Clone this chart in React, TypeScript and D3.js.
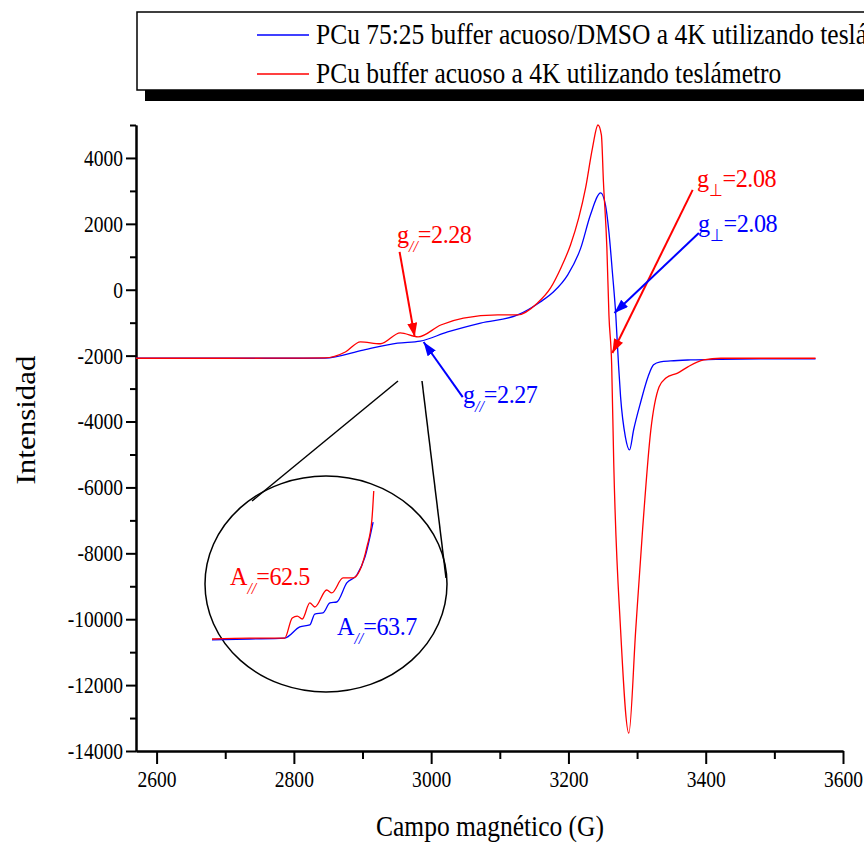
import * as d3 from 'd3'
import { useRef, useEffect } from 'react'

// EPR spectra, field in G, intensity in a.u.
const redField = [2570, 2700, 2800, 2845, 2875, 2897, 2926, 2955, 2981, 3014, 3047, 3097, 3126, 3155, 3174, 3189, 3203, 3215, 3225, 3235, 3243, 3248, 3251, 3256, 3259, 3263, 3266, 3276, 3288, 3298, 3308, 3320, 3332, 3342, 3359, 3374, 3397, 3422, 3480, 3560]
const redIntensity = [-2080, -2080, -2075, -2070, -1890, -1580, -1640, -1310, -1430, -1070, -860, -765, -765, -400, 55, 660, 1360, 2180, 3090, 4300, 5000, 4700, 3270, 1270, -770, -2290, -5260, -10330, -13460, -10330, -7290, -4260, -2950, -2680, -2530, -2340, -2130, -2080, -2080, -2080]

const blueField = [2570, 2700, 2800, 2845, 2901, 2951, 2984, 3024, 3072, 3126, 3159, 3178, 3199, 3218, 3232, 3247, 3254, 3259, 3264, 3269, 3273, 3276, 3283, 3289, 3295, 3305, 3316, 3324, 3334, 3349, 3378, 3422, 3480, 3560]
const blueIntensity = [-2080, -2080, -2080, -2075, -1830, -1620, -1560, -1280, -1010, -765, -370, -70, 450, 1270, 2270, 2940, 2570, 1750, 540, -770, -2290, -3260, -4470, -4860, -4250, -3430, -2640, -2280, -2190, -2160, -2130, -2110, -2100, -2100]

// zoomed inset (hyperfine region)
const insetRedField = [2700, 2760, 2816, 2828, 2836, 2844, 2856, 2864, 2883, 2891, 2909, 2925, 2936, 2947, 2955, 2958]
const insetRedIntensity = [-2100, -2095, -2095, -1986, -1976, -1992, -1905, -1927, -1835, -1851, -1770, -1770, -1727, -1603, -1457, -1300]
const insetBlueField = [2700, 2760, 2816, 2840, 2856, 2864, 2877, 2888, 2899, 2915, 2931, 2944, 2957]
const insetBlueIntensity = [-2105, -2100, -2095, -2035, -2024, -1965, -1959, -1905, -1900, -1797, -1754, -1657, -1468]

const xTicks = [2600, 2800, 3000, 3200, 3400, 3600]
const xMinor = [2700, 2900, 3100, 3300, 3500]
const yTicks = [-14000, -12000, -10000, -8000, -6000, -4000, -2000, 0, 2000, 4000]
const yMinor = [-13000, -11000, -9000, -7000, -5000, -3000, -1000, 1000, 3000, 5000]

const legendLabels = ['PCu 75:25  buffer acuoso/DMSO a 4K utilizando teslámetro', 'PCu buffer acuoso a 4K utilizando teslámetro']

const RED = '#ff0000'
const BLUE = '#0000ff'
const FONT = "'Liberation Serif', 'Times New Roman', serif"

export default function App() {
  const svgRef = useRef(null)

  useEffect(() => {
    const svg = d3.select(svgRef.current)
    svg.selectAll('*').remove()
    const sx = 0.85

    const x = d3.scaleLinear().domain([2570, 3600]).range([136, 843])
    const y = d3.scaleLinear().domain([-14000, 5000]).range([751, 125])

    const defs = svg.append('defs')
    ;[['red', RED], ['blue', BLUE]].forEach(([id, c]) => {
      defs.append('marker')
        .attr('id', 'arr-' + id)
        .attr('markerUnits', 'userSpaceOnUse')
        .attr('viewBox', '0 0 14 10')
        .attr('refX', 14).attr('refY', 5)
        .attr('markerWidth', 14).attr('markerHeight', 10)
        .attr('orient', 'auto')
        .append('path').attr('d', 'M0,0 L14,5 L0,10 z').attr('fill', c)
    })

    // legend
    const lg = svg.append('g')
    lg.append('rect').attr('x', 145).attr('y', 22).attr('width', 800).attr('height', 79).attr('fill', '#000')
    lg.append('rect').attr('x', 137).attr('y', 12).attr('width', 800).attr('height', 78)
      .attr('fill', '#fff').attr('stroke', '#000').attr('stroke-width', 1.5)
    ;[[BLUE, 35], [RED, 74]].forEach(([c, ly], i) => {
      lg.append('line').attr('x1', 257).attr('x2', 309).attr('y1', ly).attr('y2', ly)
        .attr('stroke', c as string).attr('stroke-width', 1.5)
      lg.append('text')
        .attr('transform', `translate(316,${(ly as number) + 9}) scale(${sx},1)`)
        .attr('font-family', FONT).attr('font-size', 30)
        .text(legendLabels[i])
    })

    // axes
    const styleAxis = (g, size) => {
      g.attr('font-family', FONT).attr('font-size', size)
      g.select('.domain').attr('stroke-width', 2)
      g.selectAll('.tick line').attr('stroke-width', 2)
    }
    const yAx = svg.append('g').attr('transform', 'translate(136,0)')
      .call(d3.axisLeft(y).tickValues(yTicks).tickSize(10).tickSizeOuter(0).tickPadding(3).tickFormat(d => String(d)))
    styleAxis(yAx, 23)
    yAx.selectAll('.tick text').attr('x', -13 / sx).attr('transform', `scale(${sx},1)`)
    const yAxm = svg.append('g').attr('transform', 'translate(136,0)')
      .call(d3.axisLeft(y).tickValues(yMinor).tickSize(6).tickSizeOuter(0).tickFormat(() => ''))
    styleAxis(yAxm, 23)

    const xAx = svg.append('g').attr('transform', 'translate(0,751)')
      .call(d3.axisBottom(x).tickValues(xTicks).tickSize(13).tickSizeOuter(0).tickPadding(7).tickFormat(d => String(d)))
    styleAxis(xAx, 23)
    xAx.selectAll('.tick text').attr('transform', `scale(${sx},1)`)
    const xAxm = svg.append('g').attr('transform', 'translate(0,751)')
      .call(d3.axisBottom(x).tickValues(xMinor).tickSize(8).tickSizeOuter(0).tickFormat(() => ''))
    styleAxis(xAxm, 23)

    svg.append('text')
      .attr('transform', `translate(490,836) scale(${sx},1)`)
      .attr('text-anchor', 'middle').attr('font-family', FONT).attr('font-size', 30)
      .text('Campo magnético (G)')
    svg.append('text')
      .attr('transform', `translate(35,420) scale(${sx},1) rotate(-90)`)
      .attr('text-anchor', 'middle').attr('font-family', FONT).attr('font-size', 31)
      .text('Intensidad')

    // spectra
    const line = (xs, ys, sxl, syl) => d3.line().curve(d3.curveMonotoneX)(xs.map((v, i) => [sxl(v), syl(ys[i])]))
    svg.append('path').attr('d', line(blueField, blueIntensity, x, y)).attr('fill', 'none').attr('stroke', BLUE).attr('stroke-width', 1.3)
    svg.append('path').attr('d', line(redField, redIntensity, x, y)).attr('fill', 'none').attr('stroke', RED).attr('stroke-width', 1.3)

    // inset
    svg.append('ellipse').attr('cx', 326).attr('cy', 584).attr('rx', 121).attr('ry', 108)
      .attr('fill', 'none').attr('stroke', '#000').attr('stroke-width', 1.5)
    svg.append('line').attr('x1', 398).attr('y1', 381).attr('x2', 252).attr('y2', 501).attr('stroke', '#000').attr('stroke-width', 1.5)
    svg.append('line').attr('x1', 422).attr('y1', 381).attr('x2', 446).attr('y2', 578).attr('stroke', '#000').attr('stroke-width', 1.5)
    const ix = d3.scaleLinear().domain([2700, 2960]).range([212, 375])
    const iy = d3.scaleLinear().domain([-2100, -1300]).range([639, 491])
    svg.append('path').attr('d', line(insetBlueField, insetBlueIntensity, ix, iy)).attr('fill', 'none').attr('stroke', BLUE).attr('stroke-width', 1.3)
    svg.append('path').attr('d', line(insetRedField, insetRedIntensity, ix, iy)).attr('fill', 'none').attr('stroke', RED).attr('stroke-width', 1.3)

    // annotations: [main, sub, rest, color, labelX, labelY (px), arrow from (G, I) to (G, I)]
    const ann = [
      ['g', '//', '=2.28', RED, 397, 243, [2954, 1150], [2976, -1430]],
      ['g', '//', '=2.27', BLUE, 463, 403, [3046, -3260], [2989, -1585]],
      ['g', '⊥', '=2.08', RED, 697, 187, [3381, 3030], [3264, -1920]],
      ['g', '⊥', '=2.08', BLUE, 698, 232, [3390, 1720], [3267, -705]],
      ['A', '//', '=62.5', RED, 230, 585, null, null],
      ['A', '//', '=63.7', BLUE, 337, 635, null, null],
    ]
    ann.forEach(([m, sub, rest, c, lx, ly, from, to]) => {
      const t = svg.append('text')
        .attr('transform', `translate(${lx},${ly}) scale(0.93,1)`)
        .attr('font-family', FONT).attr('font-size', 26).attr('fill', c)
      t.append('tspan').text(m)
      t.append('tspan').attr('dy', 9).attr('font-size', 17).attr('font-style', sub === '//' ? 'italic' : 'normal').text(sub)
      t.append('tspan').attr('dy', -9).attr('letter-spacing', -0.5).text(rest)
      if (from) {
        svg.append('line')
          .attr('x1', x(from[0])).attr('y1', y(from[1]))
          .attr('x2', x(to[0])).attr('y2', y(to[1]))
          .attr('stroke', c).attr('stroke-width', 2)
          .attr('marker-end', `url(#arr-${c === RED ? 'red' : 'blue'})`)
      }
    })
  }, [])

  return (
    <svg ref={svgRef} width={864} height={844}
      style={{ position: 'absolute', left: 0, top: 0, background: '#fff' }} />
  )
}
